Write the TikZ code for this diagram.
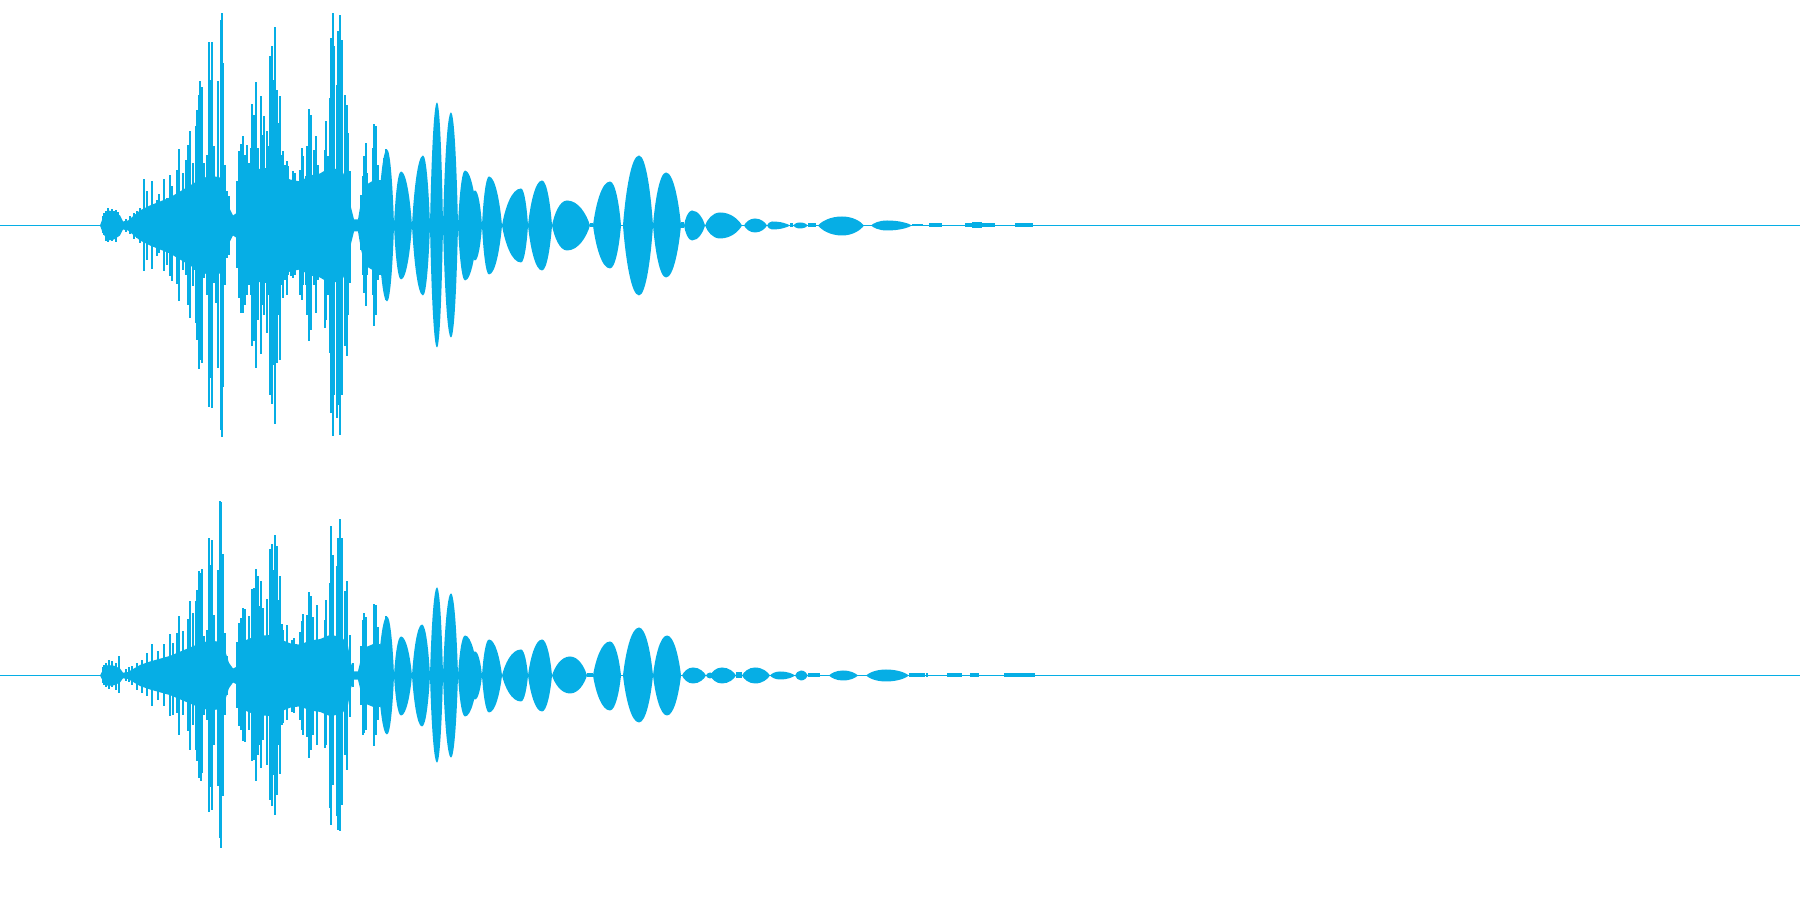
\documentclass[tikz,border=0pt]{standalone}
\definecolor{wavecol}{RGB}{6,174,229}
\begin{document}
\begin{tikzpicture}[x=0.1mm,y=0.1mm,
  wave/.style={fill=wavecol},
  axisline/.style={draw=wavecol,line width=0.11mm}]
\useasboundingbox (0,0) rectangle (1800,900);

% upper channel
\begin{scope}[shift={(0,674.5)}]
\draw[axisline] (0,0) -- (1800,0);
\foreach \s in {1,-1}
  \fill[wave,yscale=\s] (100,0) -- (103,8) -- (108,15) -- (114,14) -- (120,10) -- (123,4) -- (128,5) -- (134,10)
    -- (140,15) -- (150,20) -- (160,24) -- (170,28) -- (180,34) -- (190,40) -- (200,46) -- (210,50) -- (220,48)
    -- (225,36) -- (229,18) -- (233,10) -- (236,12) -- (238,38) -- (245,50) -- (255,56) -- (270,58) -- (280,52)
    -- (290,46) -- (300,44) -- (310,50) -- (320,52) -- (330,58) -- (342,55) -- (348,42) -- (351,18) -- (354,6)
    -- (358,6) -- (361,24) -- (365,40) -- (375,46) -- (383,44) -- (390,20) -- (394,0) -- cycle;
\foreach \xx/\hu/\hd in {103/9/8,104/12/10,106/14/16,108/17/17,110/12/15,112/16/16,114/14/12,116/15/17,118/13/10,120/8/8,
  126/6/7,130/9/9,134/12/14,137/14/13,140/17/18,
  144/46/46,147/34/35,152/44/44,157/25/31,159/31/28,164/46/46,167/27/40,170/50/51,172/39/56,177/55/59,179/76/76,
  183/52/45,186/65/50,188/80/80,190/94/93,193/62/61,195/42/45,196/99/98,197/115/115,199/130/144,200/144/135,
  202/138/138,204/62/53,207/70/70,209/183/182,211/145/153,212/183/183,214/79/58,216/42/78,218/144/143,
  221/205/205,222/212/212,223/162/162,225/60/60,227/34/33,229/29/30,237/44/43,239/74/73,241/81/88,243/89/88,
  245/70/80,247/80/70,249/62/60,251/77/70,252/121/121,254/110/116,256/143/143,258/77/95,261/129/129,263/90/80,
  264/109/90,267/94/108,268/79/70,270/169/170,272/179/179,273/145/140,275/198/199,277/135/138,279/102/90,
  280/129/135,282/70/60,283/74/73,285/60/55,287/64/70,288/59/50,291/32/51,293/54/53,295/52/50,297/44/40,
  299/29/30,300/55/70,302/77/75,303/69/60,306/49/60,307/79/90,309/116/116,311/110/105,313/40/45,314/75/60,
  316/89/88,318/60/55,320/37/35,322/32/30,325/75/103,326/104/95,328/69/70,330/127/128,331/187/188,333/212/211,
  334/179/170,337/140/193,338/194/180,340/210/210,342/185/170,345/130/121,347/120/131,348/92/90,350/54/58,
  361/30/25,363/49/50,364/69/68,366/82/81,367/52/50,370/29/30,373/77/70,374/101/101,376/99/90,378/60/55,
  380/45/50,383/30/30,384/67/60,386/76/75}
  \fill[wave] ({\xx-0.75},\hu) rectangle ({\xx+0.75},-\hd);
\foreach \xa/\xp/\xb/\hu/\hd in {378/387/394/76/76,394/401/412/54/54,412/423/430/70/70,430/437/443/123/122,
  443/451/458/113/112,458/465/478/55/55,468/475/482/35/35,482/489/502/49/49,502/521/528/37/37,528/542/552/45/45,
  552/567/590/25/25,593/610/621/44/43,623/639/653/70/70,653/666/681/53/52,684/692/705/15/15,705/720/742/13/13,
  744/755/767/7/7,767/772/790/4/4,793/800/808/3/3,818/842/864/9/10,871/887/912/5/5}
  \fill[wave] (\xa,0) .. controls ({\xa+0.15*(\xp-\xa)},{0.45*\hu}) and ({\xa+0.5*(\xp-\xa)},\hu) .. (\xp,\hu)
    .. controls ({\xb-0.5*(\xb-\xp)},\hu) and ({\xb-0.15*(\xb-\xp)},{0.45*\hu}) .. (\xb,0)
    .. controls ({\xb-0.15*(\xb-\xp)},{-0.45*\hd}) and ({\xb-0.5*(\xb-\xp)},-\hd) .. (\xp,-\hd)
    .. controls ({\xa+0.5*(\xp-\xa)},-\hd) and ({\xa+0.15*(\xp-\xa)},{-0.45*\hd}) .. (\xa,0) -- cycle;
\foreach \xa/\xb/\hh in {590/593/2,681/684/3,790/793/2,808/816/2,912/923/1,929/942/2,965/995/2,972/982/3,1015/1033/2}
  \fill[wave] (\xa,\hh) rectangle (\xb,-\hh);
\end{scope}

% lower channel
\begin{scope}[shift={(0,224.5)}]
\draw[axisline] (0,0) -- (1800,0);
\foreach \s in {0.7,-0.7}
  \fill[wave,yscale=\s] (100,0) -- (103,8) -- (108,15) -- (114,14) -- (120,10) -- (123,4) -- (128,5) -- (134,10)
    -- (140,15) -- (150,20) -- (160,24) -- (170,28) -- (180,34) -- (190,40) -- (200,46) -- (210,50) -- (220,48)
    -- (225,36) -- (229,18) -- (233,10) -- (236,12) -- (238,38) -- (245,50) -- (255,56) -- (270,58) -- (280,52)
    -- (290,46) -- (300,44) -- (310,50) -- (320,52) -- (330,58) -- (342,55) -- (348,42) -- (351,18) -- (354,6)
    -- (358,6) -- (361,24) -- (365,40) -- (375,46) -- (383,44) -- (390,20) -- (394,0) -- cycle;
\foreach \xx/\hu/\hd in {103/8/8,104/10/10,106/12/12,109/15/14,112/14/12,116/12/15,119/19/18,126/6/6,129/8/7,
  132/9/10,137/12/15,142/15/18,
  147/22/21,152/31/31,158/24/25,164/31/31,170/41/41,173/32/40,177/42/38,179/59/60,183/44/40,188/56/56,190/74/75,
  193/62/50,196/74/75,197/85/86,199/104/103,201/102/106,202/106/98,204/39/40,207/45/45,209/137/137,211/110/112,
  212/135/135,214/60/70,218/105/111,220/174/163,221/173/173,223/121/121,225/42/40,227/19/20,237/33/33,239/52/51,
  241/57/55,243/67/66,245/66/67,249/59/55,252/86/86,254/87/85,256/106/106,258/99/80,259/69/70,261/94/93,
  263/67/65,267/76/90,270/126/125,272/131/131,273/105/100,275/140/140,277/129/120,279/75/70,280/99/99,282/51/50,
  283/45/48,287/50/45,292/35/37,294/37/38,300/43/45,302/54/55,303/61/60,307/60/62,309/83/83,311/79/75,
  313/58/60,317/70/70,325/55/73,326/75/70,330/92/133,331/149/150,333/120/110,337/109/141,338/137/155,
  340/156/156,342/137/130,345/84/80,347/94/95,350/40/42,353/12/12,361/29/30,363/55/60,364/62/58,366/58/55,
  370/20/20,374/71/71,376/70/60,378/48/45,383/45/40,386/59/58}
  \fill[wave] ({\xx-0.75},\hu) rectangle ({\xx+0.75},-\hd);
\foreach \xa/\xp/\xb/\hu/\hd in {378/387/394/59/59,394/401/412/39/40,412/422/430/51/51,430/437/443/88/87,
  443/451/458/82/82,458/465/478/40/41,468/475/482/24/24,482/489/502/36/37,502/521/528/26/26,528/542/552/36/36,
  552/570/587/19/18,593/610/621/34/35,623/639/653/48/47,653/667/681/40/40,682/693/706/8/8,706/710/714/3/3,
  710/722/736/8/8,742/755/770/8/8,770/780/795/4/4,795/801/808/5/5,829/843/858/5/5,866/886/909/6/6}
  \fill[wave] (\xa,0) .. controls ({\xa+0.15*(\xp-\xa)},{0.45*\hu}) and ({\xa+0.5*(\xp-\xa)},\hu) .. (\xp,\hu)
    .. controls ({\xb-0.5*(\xb-\xp)},\hu) and ({\xb-0.15*(\xb-\xp)},{0.45*\hu}) .. (\xb,0)
    .. controls ({\xb-0.15*(\xb-\xp)},{-0.45*\hd}) and ({\xb-0.5*(\xb-\xp)},-\hd) .. (\xp,-\hd)
    .. controls ({\xa+0.5*(\xp-\xa)},-\hd) and ({\xa+0.15*(\xp-\xa)},{-0.45*\hd}) .. (\xa,0) -- cycle;
\foreach \xa/\xb/\hh in {587/593/2,736/742/3,808/820/2,909/925/2,926/928/2,947/962/2,970/979/2,1004/1035/2}
  \fill[wave] (\xa,\hh) rectangle (\xb,-\hh);
\end{scope}
\end{tikzpicture}
\end{document}
